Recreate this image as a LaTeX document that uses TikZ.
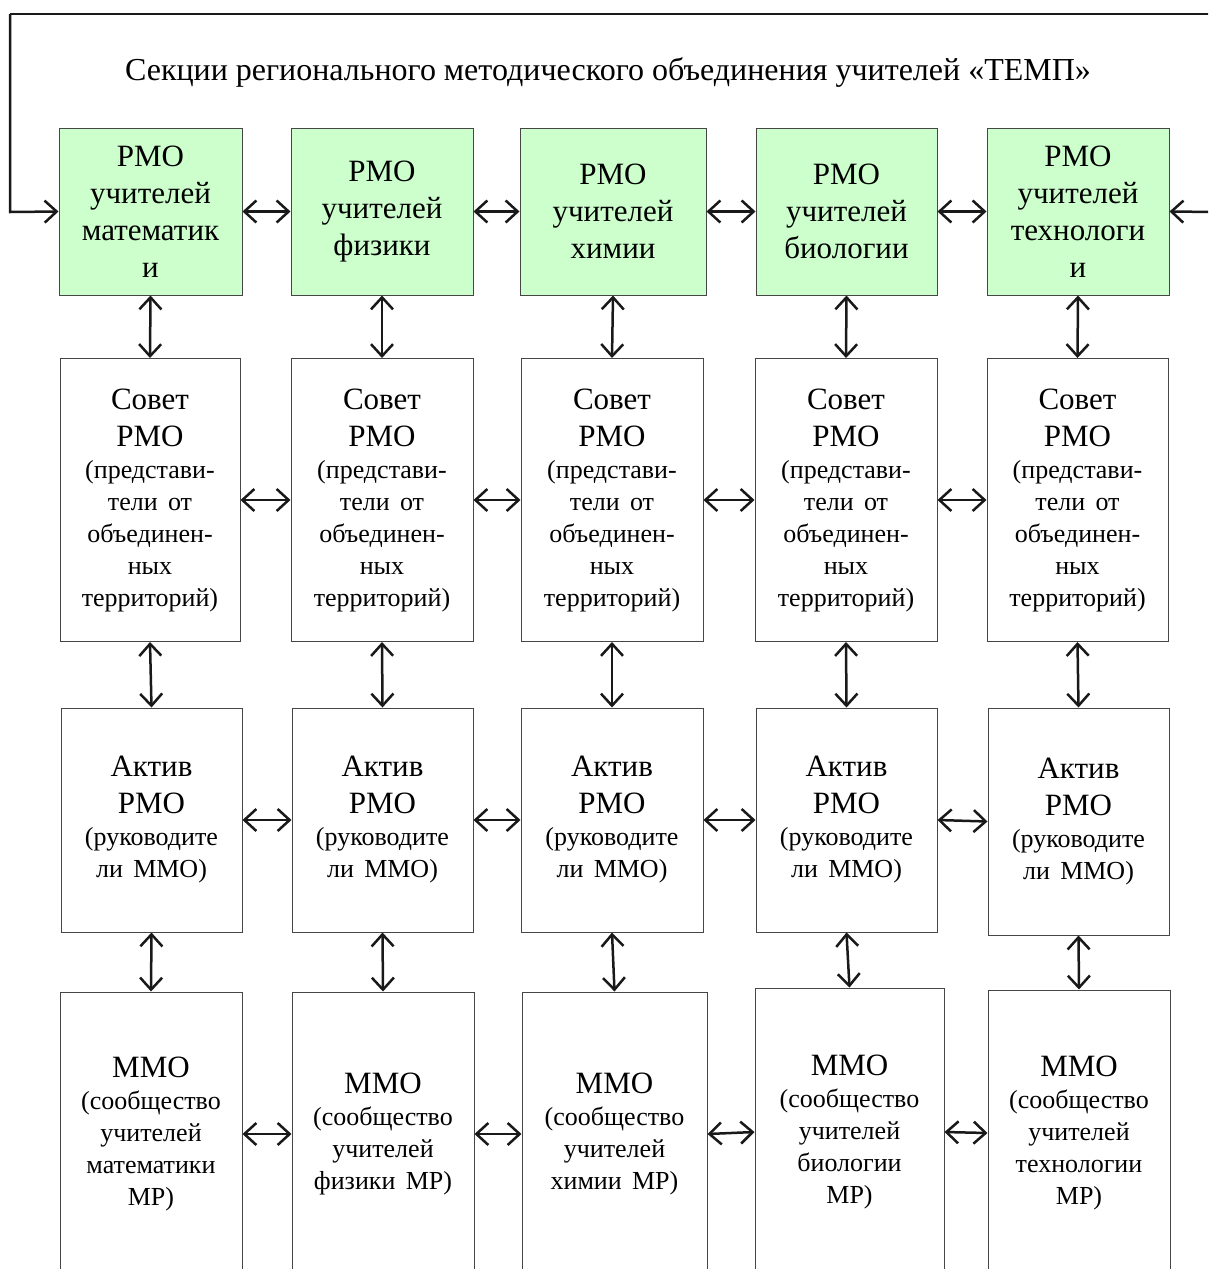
\documentclass[tikz,border=0pt]{standalone}
\usepackage{fontspec}
\setmainfont{Liberation Serif}
\usetikzlibrary{arrows.meta}
\newcommand{\bigf}{\fontsize{31}{37}\selectfont}
\newcommand{\smf}{\fontsize{26}{32}\selectfont}
\definecolor{boxgreen}{RGB}{204,255,204}
\definecolor{frameline}{RGB}{70,70,70}
\tikzset{
  box/.style={draw=frameline, line width=1pt, rectangle, align=center, inner sep=0pt,
    text width=176pt, font=\bigf},
  greenbox/.style={box, fill=boxgreen},
  arr/.style={line width=2.5pt, draw=black!90, {Straight Barb[length=12pt,width=22pt]}-{Straight Barb[length=12pt,width=22pt]}},
  onearr/.style={line width=2.5pt, draw=black!90, -{Straight Barb[length=12pt,width=22pt]}},
}
\begin{document}
\begin{tikzpicture}[x=1pt,y=-1pt]
\clip (0,0) rectangle (1208,1269);
\fill[white] (0,0) rectangle (1208,1269);

% title
\node[font=\fontsize{32}{38}\selectfont] (title) at (608,72) {Секции регионального методического объединения учителей «ТЕМП»};

% row 1
\node[greenbox, minimum width=183pt, minimum height=167pt] (a1) at (150.5,211.5) {РМО\\учителей\\математик\\и\par};
\node[greenbox, minimum width=182pt, minimum height=167pt] (a2) at (382,211.5) {РМО\\учителей\\физики\par};
\node[greenbox, minimum width=186pt, minimum height=167pt] (a3) at (613,211.5) {РМО\\учителей\\химии\par};
\node[greenbox, minimum width=181pt, minimum height=167pt] (a4) at (846.5,211.5) {РМО\\учителей\\биологии\par};
\node[greenbox, minimum width=182pt, minimum height=167pt] (a5) at (1078,211.5) {РМО\\учителей\\технологи\\и\par};

% row 2
\foreach \n/\xl/\xr in {1/60/240, 2/291/473, 3/521/703, 4/755/937, 5/987/1168}{
  \pgfmathsetmacro{\cx}{(\xl+\xr)/2}
  \pgfmathsetmacro{\w}{\xr-\xl}
  \node[box, minimum width=\w pt, minimum height=283pt] (b\n) at (\cx,500)
    {Совет\\РМО\par\smf (представи-\\тели от\\объединен-\\ных\\территорий)\par};
}

% row 3
\foreach \n/\xl/\xr/\yt/\yb in {1/61/242/708/932, 2/292/473/708/932, 3/521/703/708/932, 4/756/937/708/932, 5/988/1169/708/935}{
  \pgfmathsetmacro{\cx}{(\xl+\xr)/2}
  \pgfmathsetmacro{\cy}{(\yt+\yb)/2}
  \pgfmathsetmacro{\w}{\xr-\xl}
  \pgfmathsetmacro{\h}{\yb-\yt}
  \node[box, minimum width=\w pt, minimum height=\h pt] (c\n) at (\cx,\cy)
    {Актив\\РМО\par\smf (руководите\\ли ММО)\par};
}

% row 4
\node[box, minimum width=182pt, minimum height=284pt] (d1) at (151,1134) {ММО\par\smf (сообщество\\учителей\\математики\\МР)\par};
\node[box, minimum width=182pt, minimum height=284pt] (d2) at (383,1134) {ММО\par\smf (сообщество\\учителей\\физики МР)\par};
\node[box, minimum width=185pt, minimum height=284pt] (d3) at (614.5,1134) {ММО\par\smf (сообщество\\учителей\\химии МР)\par};
\node[box, minimum width=189pt, minimum height=288pt] (d4) at (849.5,1132) {ММО\par\smf (сообщество\\учителей\\биологии\\МР)\par};
\node[box, minimum width=182pt, minimum height=286pt] (d5) at (1079,1133) {ММО\par\smf (сообщество\\учителей\\технологии\\МР)\par};

% horizontal arrows
\foreach \r in {a,b,c,d}{
  \draw[arr] (\r1.east) -- (\r2.west);
  \draw[arr] (\r2.east) -- (\r3.west);
  \draw[arr] (\r3.east) -- (\r4.west);
  \draw[arr] (\r4.east) -- (\r5.west);
}

% vertical arrows
\foreach \i in {1,...,5}{
  \draw[arr] (a\i.south) -- (b\i.north);
  \draw[arr] (b\i.south) -- (c\i.north);
  \draw[arr] (c\i.south) -- (d\i.north);
}

% outer frame
\coordinate (lb) at (10,212);
\coordinate (lt) at (10,14);
\coordinate (rt) at (1215,14);
\coordinate (rb) at (1215,212);
\draw[line width=2.5pt, draw=black!90] (lt) -- (rt);
\draw[onearr] (lt) -- (lb) -- (a1.west);
\draw[onearr] (rb) -- (a5.east);
\end{tikzpicture}
\end{document}
